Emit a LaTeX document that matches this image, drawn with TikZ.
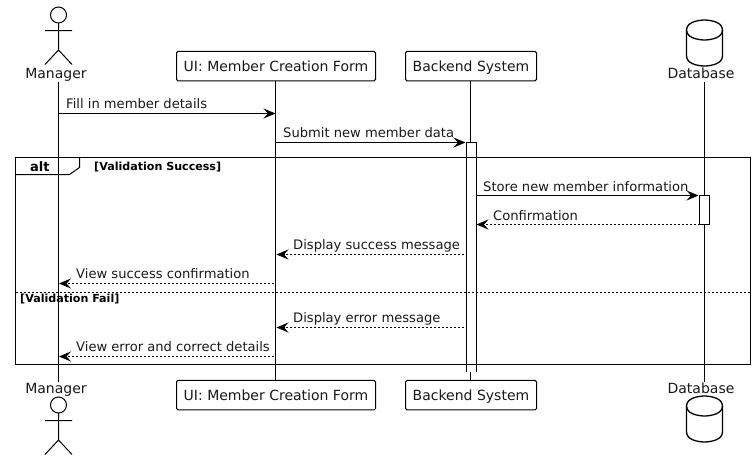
\documentclass[tikz,border=0pt]{standalone}
\usepackage{fontspec}
\setmainfont{DejaVu Sans}
\usetikzlibrary{arrows.meta,shapes.geometric}
\tikzset{
  x=1pt,y=-1pt,
  ink/.style={line width=1pt,draw=black},
  lifeline/.style={ink},
  partbox/.style={ink,rounded corners=1.5pt,fill=white,minimum height=29.5pt,inner sep=0pt,text height=10.2pt,text depth=0pt,font=\fontsize{14}{16}\selectfont,text=black!90},
  partlabel/.style={inner sep=0pt,font=\fontsize{14}{16}\selectfont,text=black!90},
  msg/.style={inner sep=0pt,anchor=base west,font=\fontsize{13.1}{15}\selectfont,text=black!90},
  guard/.style={inner sep=0pt,anchor=base west,font=\bfseries\fontsize{11.1}{13}\selectfont},
  call/.style={ink,-{Stealth[length=12pt,width=10pt,inset=4.5pt]}},
  reply/.style={line width=.8pt,draw=black,dash pattern=on 2pt off 2pt,-{Stealth[length=12pt,width=10pt,inset=4.5pt,line width=.8pt,sep=0pt]}},
  bar/.style={ink,fill=white},
  can/.style={line width=1.3pt,draw=black,fill=white},
}
\newcommand{\stickman}[2]{%
  \draw[ink] (#1,#2) circle[radius=8];
  \draw[ink] (#1,#2+8) -- (#1,#2+35) (#1-13.5,#2+15.5) -- (#1+13.5,#2+15.5)
    (#1-13.5,#2+49.5) -- (#1,#2+35) -- (#1+13.5,#2+49.5);}
\newcommand{\dbcan}[2]{%
  \draw[can] (#1-18,#2+10) .. controls (#1-18,#2) and (#1,#2) .. (#1,#2)
    .. controls (#1,#2) and (#1+18,#2) .. (#1+18,#2+10)
    -- (#1+18,#2+36) .. controls (#1+18,#2+46) and (#1,#2+46) .. (#1,#2+46)
    .. controls (#1,#2+46) and (#1-18,#2+46) .. (#1-18,#2+36) -- cycle;
  \draw[can,fill=none] (#1-18,#2+10) .. controls (#1-18,#2+20) and (#1,#2+20) .. (#1,#2+20)
    .. controls (#1,#2+20) and (#1+18,#2+20) .. (#1+18,#2+10);}
\begin{document}
\begin{tikzpicture}
\useasboundingbox (0,0) rectangle (756,461);
\fill[white] (0,0) rectangle (756,461);
% participants
\stickman{58.5}{15}
\stickman{58.5}{405}
\dbcan{704.5}{20}
\dbcan{704.5}{396}
\node[partlabel,anchor=base] (mgrT) at (56,78.5) {Manager};
\node[partlabel,anchor=base] (mgrB) at (56,393) {Manager};
\node[partbox,minimum width=199pt] (uiT) at (276,66.2) {UI: Member Creation Form};
\node[partbox,minimum width=199pt] (uiB) at (276,395.2) {UI: Member Creation Form};
\node[partbox,minimum width=131pt] (beT) at (471,66.2) {Backend System};
\node[partbox,minimum width=131pt] (beB) at (471,395.2) {Backend System};
\node[partlabel,anchor=base] (dbT) at (701,78.5) {Database};
\node[partlabel,anchor=base] (dbB) at (701,393) {Database};
% lifelines
\coordinate (mgrTop) at (58.5,82);
\coordinate (mgrEnd) at (58.5,381.5);
\coordinate (dbTop) at (704.5,82);
\coordinate (dbEnd) at (704.5,382);
\coordinate (beBarTop) at (470.5,142);
\coordinate (beBarEnd) at (470.5,372);
\draw[lifeline] (mgrTop) -- (mgrEnd);
\draw[lifeline] (uiT.south -| 275.5,0) -- (uiB.north -| 275.5,0);
\draw[lifeline] (beT.south -| 470.5,0) -- (beBarTop);
\draw[lifeline] (beBarEnd) -- (beB.north -| 470.5,0);
\draw[lifeline] (dbTop) -- (dbEnd);
% activation bars
\draw[ink] (466.5,372) -- (466.5,142.5) -- (476.5,142.5) -- (476.5,372);
\draw[bar] (699.5,195.5) rectangle (709.5,224.5);
% frame
\node[guard,font=\bfseries\fontsize{13}{15}\selectfont] (altlabel) at (30,171) {alt};
\draw[ink] (15.5,157.5) rectangle (750.5,364.5);
\draw[ink] (15.5,174.5) -- (69.5,174.5) -- (79.5,167.5) -- (79.5,157.5);
\draw[line width=.8pt,dash pattern=on 2pt off 2pt] (15.5,292.5) -- (750.5,292.5);
\node[guard] (g1) at (94,170) {[Validation Success]};
\node[guard] (g2) at (20,302) {[Validation Fail]};
% messages
\coordinate (m1a) at (58.5,113.5); \coordinate (m1b) at (275.5,113.5);
\coordinate (m2a) at (275.5,142.5); \coordinate (m2b) at (465.5,142.5);
\coordinate (m3a) at (476.5,195.5); \coordinate (m3b) at (698.5,195.5);
\coordinate (m4a) at (699.5,224.5); \coordinate (m4b) at (476.5,224.5);
\coordinate (m5a) at (464,254.5); \coordinate (m5b) at (276.5,254.5);
\coordinate (m6a) at (274,283.5); \coordinate (m6b) at (59,283.5);
\coordinate (m7a) at (464,327.5); \coordinate (m7b) at (276.5,327.5);
\coordinate (m8a) at (274,356.5); \coordinate (m8b) at (59,356.5);
\draw[call] (m1a) -- (m1b);
\draw[call] (m2a) -- (m2b);
\draw[call] (m3a) -- (m3b);
\draw[reply] (m4a) -- (m4b);
\draw[reply] (m5a) -- (m5b);
\draw[reply] (m6a) -- (m6b);
\draw[reply] (m7a) -- (m7b);
\draw[reply] (m8a) -- (m8b);
\node[msg] (t1) at (66,108) {Fill in member details};
\node[msg] (t2) at (283,137) {Submit new member data};
\node[msg] (t3) at (483,191) {Store new member information};
\node[msg] (t4) at (493,220) {Confirmation};
\node[msg] (t5) at (293,249) {Display success message};
\node[msg] (t6) at (76,278) {View success confirmation};
\node[msg] (t7) at (293,322) {Display error message};
\node[msg] (t8) at (76,351) {View error and correct details};
\end{tikzpicture}
\end{document}
